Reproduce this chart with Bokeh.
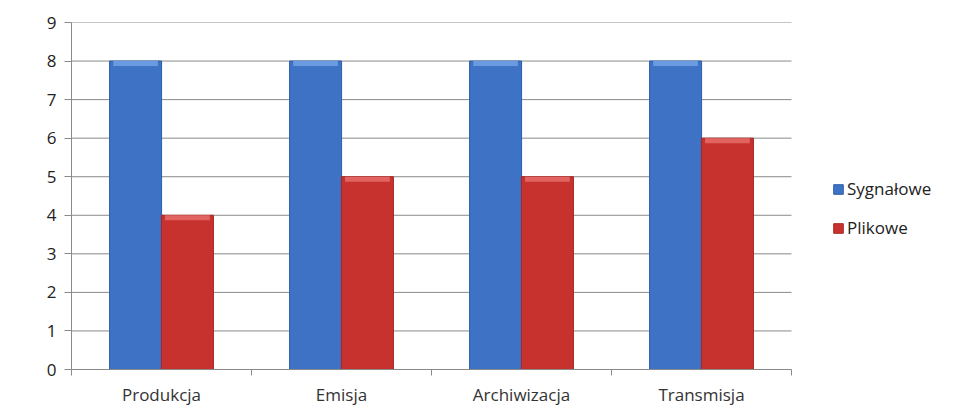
from bokeh.plotting import figure
from bokeh.models import ColumnDataSource, FixedTicker, Legend, LegendItem, Range1d
from bokeh.embed import file_html
from bokeh.resources import INLINE

categories = ["Produkcja", "Emisja", "Archiwizacja", "Transmisja"]
series_names = ["Sygnałowe", "Plikowe"]
sygnalowe = [8, 8, 8, 8]
plikowe = [4, 5, 5, 6]
y_ticks = [0, 1, 2, 3, 4, 5, 6, 7, 8, 9]

FONT = "Open Sans"
BLUE = "#3d72c4"
BLUE_EDGE = "#2d5ea8"
BLUE_TOP = "#6a9be0"
RED = "#c7322e"
RED_EDGE = "#a52723"
RED_TOP = "#e26461"
AXIS = "#8a8a8a"

W, H = 956, 408
LEFT, TOP, BOTTOM = 71, 22, 39
CAT_PX = 180  # pixel width of one category slot

n = len(categories)
centers = [i + 0.5 for i in range(n)]
off = 0.144
bw = 0.289
frame_w = W - LEFT
x_end = frame_w / CAT_PX
cap = 0.13

src = ColumnDataSource(dict(
    xb=[c - off for c in centers],
    xr=[c + off for c in centers],
    s=sygnalowe,
    p=plikowe,
    s_cap=[v - cap for v in sygnalowe],
    p_cap=[v - cap for v in plikowe],
))

grid_src = ColumnDataSource(dict(
    y=y_ticks,
    x0=[0] * len(y_ticks),
    x1=[n] * len(y_ticks),
))

p = figure(width=W, height=H, output_backend="svg", toolbar_location=None,
           x_range=Range1d(0, x_end), y_range=Range1d(0, max(y_ticks)),
           min_border_left=LEFT, min_border_top=TOP, min_border_bottom=BOTTOM,
           min_border_right=0)
p.background_fill_color = "white"
p.border_fill_color = "white"
p.outline_line_color = None

p.xgrid.grid_line_color = None
p.ygrid.grid_line_color = None
p.segment(x0="x0", x1="x1", y0="y", y1="y", source=grid_src,
          line_color=AXIS, line_width=1)

rb = p.vbar(x="xb", top="s", bottom=0, width=bw, source=src,
            fill_color=BLUE, line_color=BLUE_EDGE, line_width=1)
p.vbar(x="xb", top="s", bottom="s_cap", width=bw * 0.86, source=src,
       fill_color=BLUE_TOP, line_color=None)
rr = p.vbar(x="xr", top="p", bottom=0, width=bw, source=src,
            fill_color=RED, line_color=RED_EDGE, line_width=1)
p.vbar(x="xr", top="p", bottom="p_cap", width=bw * 0.86, source=src,
       fill_color=RED_TOP, line_color=None)

# y axis
p.yaxis.ticker = FixedTicker(ticks=y_ticks, minor_ticks=[])
p.yaxis.axis_line_color = AXIS
p.yaxis.major_tick_line_color = AXIS
p.yaxis.major_tick_out = 7
p.yaxis.major_tick_in = 0
p.yaxis.minor_tick_line_color = None
p.yaxis.major_label_text_font = FONT
p.yaxis.major_label_text_font_size = "17px"
p.yaxis.major_label_text_color = "#222222"
p.yaxis.major_label_standoff = 8

# x axis
p.xaxis.bounds = (0, n)
p.xaxis.ticker = FixedTicker(ticks=centers, minor_ticks=list(range(n + 1)))
p.xaxis.major_label_overrides = {c: lab for c, lab in zip(centers, categories)}
p.xaxis.axis_line_color = AXIS
p.xaxis.major_tick_line_color = None
p.xaxis.minor_tick_line_color = AXIS
p.xaxis.minor_tick_out = 6
p.xaxis.minor_tick_in = 0
p.xaxis.major_label_text_font = FONT
p.xaxis.major_label_text_font_size = "17px"
p.xaxis.major_label_text_color = "#333333"
p.xaxis.major_label_standoff = 7

legend = Legend(items=[LegendItem(label=series_names[0], renderers=[rb]),
                       LegendItem(label=series_names[1], renderers=[rr])],
                location=(761, 130), border_line_color=None,
                background_fill_alpha=0,
                label_text_font=FONT, label_text_font_size="17px",
                label_text_color="#222222", label_height=22,
                glyph_width=12, glyph_height=12, spacing=16,
                label_standoff=3, margin=0, padding=6)
p.add_layout(legend, "center")

open("out.html", "w").write(file_html(p, INLINE))
